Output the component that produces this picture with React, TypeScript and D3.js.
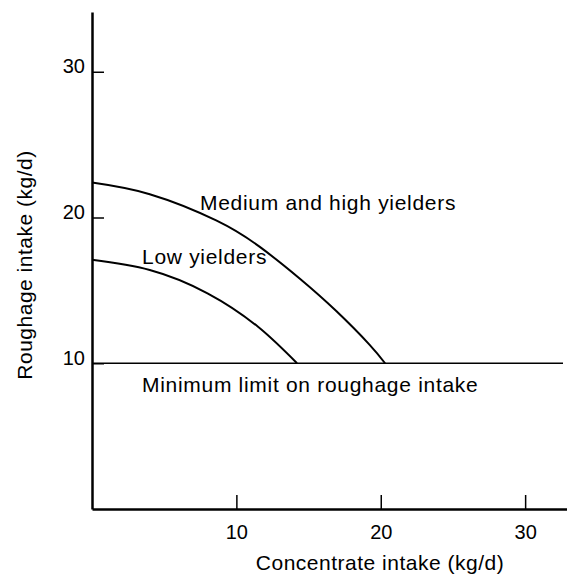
import { useEffect, useRef } from "react";
import * as d3 from "d3";

// concentrate intake (kg/d), roughage intake (kg/d)
const mediumHigh: [number, number][] = [
  [0, 22.4], [4, 21.6], [8.6, 19.8], [11.6, 18.0],
  [14.4, 15.8], [16.9, 13.6], [19.2, 11.3], [20.3, 10],
];
const lowYielders: [number, number][] = [
  [0, 17.1], [4, 16.4], [8, 14.8], [11.5, 12.5], [14.2, 10],
];
const minRoughage = 10;
const xTicks = [10, 20, 30];
const yTicks = [10, 20, 30];

const FONT = "'Liberation Sans', Arial, sans-serif";

export default function App() {
  const svgRef = useRef<SVGSVGElement | null>(null);

  useEffect(() => {
    if (!svgRef.current) return;
    const svg = d3.select(svgRef.current);
    svg.selectAll("*").remove();

    const x = d3.scaleLinear().domain([0, 32.9]).range([92, 567]);
    const y = d3.scaleLinear().domain([0, 34.1]).range([509, 12]);

    const g = svg.append("g").attr("font-family", FONT);

    // axes
    g.append("g")
      .attr("transform", `translate(0,${y(0)})`)
      .call(d3.axisBottom(x).tickValues(xTicks).tickSizeInner(-14).tickSizeOuter(0).tickPadding(16))
      .call((a) => a.selectAll("line,path").attr("stroke", "#000").attr("stroke-width", 2.5))
      .call((a) => a.selectAll("line").attr("stroke-width", 1.5))
      .call((a) =>
        a.selectAll("text").attr("fill", "#000").attr("font-size", 20).attr("font-family", FONT),
      );

    g.append("g")
      .attr("transform", `translate(${x(0)},0)`)
      .call(d3.axisLeft(y).tickValues(yTicks).tickSizeInner(-12).tickSizeOuter(0).tickPadding(7))
      .call((a) => a.selectAll("line,path").attr("stroke", "#000").attr("stroke-width", 2.5))
      .call((a) => a.selectAll("line").attr("stroke-width", 1.5))
      .call((a) =>
        a
          .selectAll("text")
          .attr("fill", "#000")
          .attr("font-size", 20)
          .attr("font-family", FONT)
          .attr("dy", "0.05em"),
      );

    // minimum roughage line
    g.append("line")
      .attr("x1", x(0))
      .attr("x2", 563)
      .attr("y1", y(minRoughage))
      .attr("y2", y(minRoughage))
      .attr("stroke", "#000")
      .attr("stroke-width", 1.6);

    const line = d3
      .line<[number, number]>()
      .x((d) => x(d[0]))
      .y((d) => y(d[1]))
      .curve(d3.curveNatural);

    [mediumHigh, lowYielders].forEach((series) => {
      g.append("path")
        .attr("d", line(series))
        .attr("fill", "none")
        .attr("stroke", "#000")
        .attr("stroke-width", 2);
    });

    const label = (text: string, lx: number, ly: number) =>
      g.append("text")
        .attr("x", lx)
        .attr("y", ly)
        .attr("font-size", 21)
        .attr("letter-spacing", 0.7)
        .attr("fill", "#000")
        .text(text);

    label("Medium and high yielders", 200, 210);
    label("Low yielders", 142, 264);
    label("Minimum limit on roughage intake", 142, 392);

    g.append("text")
      .attr("x", 380)
      .attr("y", 570)
      .attr("text-anchor", "middle")
      .attr("font-size", 21)
      .attr("letter-spacing", 0.5)
      .text("Concentrate intake (kg/d)");

    g.append("text")
      .attr("transform", `translate(32,265) rotate(-90)`)
      .attr("text-anchor", "middle")
      .attr("font-size", 21)
      .attr("letter-spacing", 0.5)
      .text("Roughage intake (kg/d)");
  }, []);

  return (
    <svg
      ref={svgRef}
      width={567}
      height={578}
      style={{ position: "absolute", left: 0, top: 0, background: "#fff" }}
    />
  );
}
